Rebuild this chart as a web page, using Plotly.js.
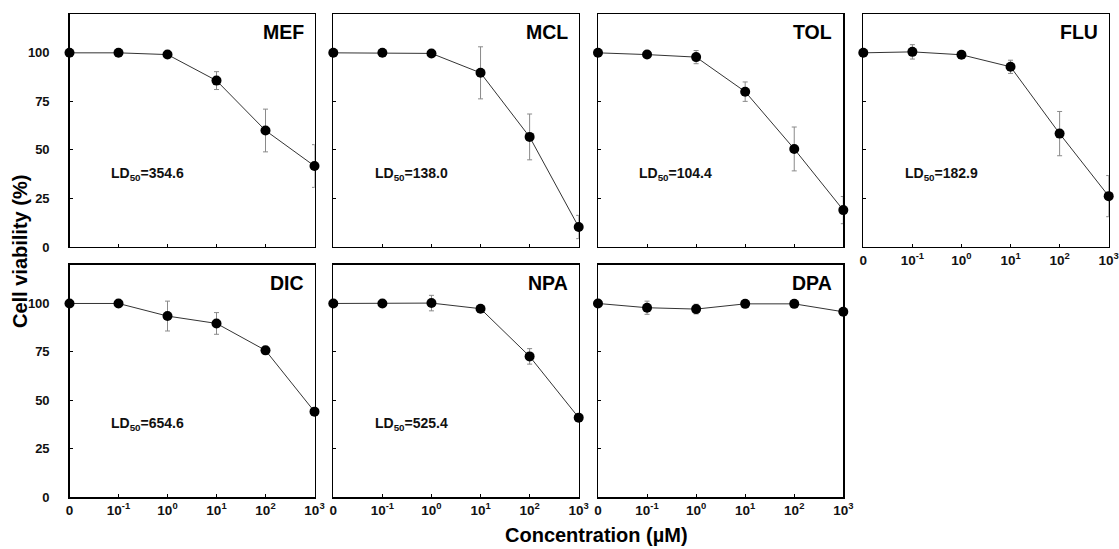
<!DOCTYPE html>
<html>
<head>
<meta charset="utf-8">
<script src="https://cdn.plot.ly/plotly-3.0.1.min.js"></script>
<style>html,body{margin:0;padding:0;background:#fff;}#chart{width:1119px;height:549px;}</style>
</head>
<body>
<div id="chart"></div>
<script>
// Concentration categories (0, 10^-1 ... 10^3 µM)
const concLabels = ["0", "10<sup>-1</sup>", "10<sup>0</sup>", "10<sup>1</sup>", "10<sup>2</sup>", "10<sup>3</sup>"];
const concIndex = [0, 1, 2, 3, 4, 5];

const drugNames = ["MEF", "MCL", "TOL", "FLU", "DIC", "NPA", "DPA"];
const ld50Labels = ["354.6", "138.0", "104.4", "182.9", "654.6", "525.4", null];

const MEF = [100, 100, 99.1, 85.7, 60.0, 41.7];
const MEF_err = [0, 0, 0, 4.6, 11, 11];
const MCL = [100, 100, 99.7, 89.7, 56.7, 10.3];
const MCL_err = [0, 0, 0, 13.4, 11.8, 6];
const TOL = [100, 99.1, 97.8, 80.0, 50.5, 19.0];
const TOL_err = [0, 0, 3.4, 5, 11.3, 7];
const FLU = [100, 100.5, 99.0, 92.8, 58.4, 26.2];
const FLU_err = [0, 3.7, 0, 3.4, 11.4, 10.6];
const DIC = [100, 100, 93.5, 89.7, 75.8, 44.2];
const DIC_err = [0, 2, 7.7, 5.6, 0, 0];
const NPA = [100, 100, 100.2, 97.3, 72.7, 41.1];
const NPA_err = [0, 0, 4, 0, 4, 0];
const DPA = [100, 97.8, 97.1, 99.8, 99.8, 95.7];
const DPA_err = [0, 3.4, 2.5, 0, 0, 2];

const yTicks = [0, 25, 50, 75, 100];

const series = [MEF, MCL, TOL, FLU, DIC, NPA, DPA];
const errors = [MEF_err, MCL_err, TOL_err, FLU_err, DIC_err, NPA_err, DPA_err];

const W = 1119, H = 549;
const colsPx = [[69.5, 314.5], [333.3, 578.7], [598, 843.3], [863.3, 1108.7]];
const rowsPx = [[14, 247], [264.7, 497.3]];
const cells = [[0,0],[0,1],[0,2],[0,3],[1,0],[1,1],[1,2]];

const font = "Arial, 'Liberation Sans', sans-serif";
const data = [];
const layout = {
  width: W, height: H,
  margin: {l: 0, r: 0, t: 0, b: 0},
  paper_bgcolor: "#fff", plot_bgcolor: "#fff",
  showlegend: false,
  font: {family: font, color: "#111"},
  annotations: []
};

cells.forEach(([r, c], i) => {
  const k = i + 1;
  const xa = "xaxis" + (k === 1 ? "" : k), ya = "yaxis" + (k === 1 ? "" : k);
  const xr = "x" + (k === 1 ? "" : k), yr = "y" + (k === 1 ? "" : k);
  data.push({
    type: "scatter", mode: "lines+markers",
    x: concIndex, y: series[i], xaxis: xr, yaxis: yr,
    cliponaxis: false,
    line: {color: "#333", width: 1},
    marker: {color: "#000", size: 10},
    error_y: {type: "data", array: errors[i], visible: true, color: "#8a8a8a", thickness: 1, width: 2.5}
  });
  const showX = (r === 1) || (c === 3);
  const showY = (c === 0);
  layout[xa] = {
    domain: [colsPx[c][0] / W, colsPx[c][1] / W],
    range: [0, 5], anchor: yr,
    tickvals: concIndex, ticktext: concLabels,
    showticklabels: showX,
    ticks: "inside", ticklen: 3, tickwidth: 1, tickcolor: "#000",
    showline: true, linecolor: "#000", linewidth: 1.3, mirror: true,
    showgrid: false, zeroline: false,
    tickfont: {size: 13.5, family: font, weight: "bold", color: "#111"}
  };
  layout[ya] = {
    domain: [1 - rowsPx[r][1] / H, 1 - rowsPx[r][0] / H],
    range: [0, 120], anchor: xr,
    tickvals: yTicks,
    showticklabels: showY,
    ticks: "inside", ticklen: 3, tickwidth: 1, tickcolor: "#000",
    showline: true, linecolor: "#000", linewidth: 1.3, mirror: true,
    showgrid: false, zeroline: false,
    ticklabelstandoff: 16,
    tickfont: {size: 13, family: font, weight: "bold", color: "#111"}
  };
  layout.annotations.push({
    xref: xr, yref: yr, x: 5, y: 110.5, xanchor: "right", yanchor: "middle",
    xshift: -9, text: "<b>" + drugNames[i] + "</b>", showarrow: false,
    font: {size: 19.5, family: font, color: "#000"}
  });
  if (ld50Labels[i]) {
    layout.annotations.push({
      xref: xr, yref: yr, x: 0.8, y: 37.7, xanchor: "left", yanchor: "middle",
      text: "<b>LD<sub>50</sub>=" + ld50Labels[i] + "</b>", showarrow: false,
      font: {size: 14, family: font, color: "#111"}
    });
  }
});

layout.annotations.push({
  xref: "paper", yref: "paper", x: 20 / W, y: 1 - 252 / H, xanchor: "center", yanchor: "middle",
  text: "<b>Cell viability (%)</b>", textangle: -90, showarrow: false,
  font: {size: 20, family: font, color: "#000"}
});
layout.annotations.push({
  xref: "paper", yref: "paper", x: 596 / W, y: 1 - 535 / H, xanchor: "center", yanchor: "middle",
  text: "<b>Concentration (\u00b5M)</b>", showarrow: false,
  font: {size: 20, family: font, color: "#000"}
});

Plotly.newPlot("chart", data, layout, {displayModeBar: false, staticPlot: true});
</script>
</body>
</html>
